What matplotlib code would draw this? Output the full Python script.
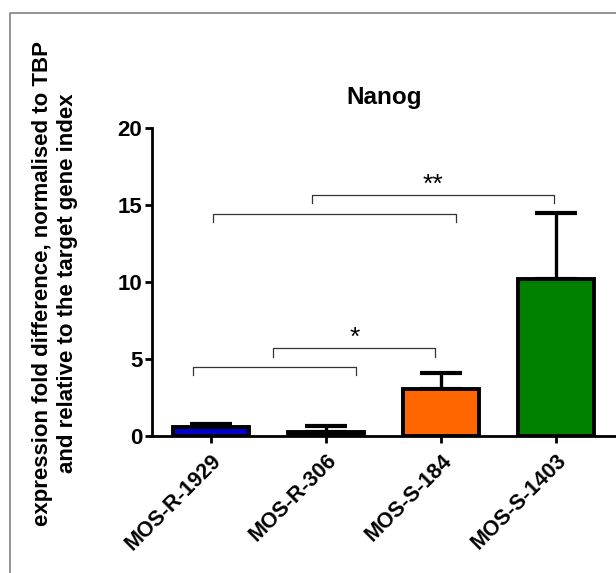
import matplotlib
matplotlib.use('Agg')
from matplotlib import pyplot as plt
from matplotlib.lines import Line2D

plt.rcParams['font.family'] = ['Liberation Sans', 'DejaVu Sans']

# Nanog expression per cell line (mean + upper SEM)
lines = ['MOS-R-1929', 'MOS-R-306', 'MOS-S-184', 'MOS-S-1403']
means = [0.6, 0.25, 3.05, 10.2]
sems = [0.2, 0.4, 1.05, 4.3]
colors = ['#0000CC', '#111111', '#FF6600', '#008000']

# significance brackets: left x, right x, height, label
brackets = [
    (-0.16, 1.26, 4.52, ''),
    (0.54, 1.95, 5.71, '*'),
    (0.02, 2.13, 14.43, ''),
    (0.88, 2.98, 15.67, '**'),
]

fig = plt.figure(figsize=(6.16, 5.73), dpi=100)
ax = fig.add_axes([152 / 616, 1 - 436.3 / 573, 1 - 152 / 616, (436.3 - 128) / 573])

x = list(range(len(lines)))
ax.errorbar(x, means, yerr=[[0] * len(sems), sems], fmt='none', ecolor='black',
            elinewidth=2.4, capsize=15, capthick=3, zorder=1)
ax.bar(x, means, width=0.66, color=colors, edgecolor='black', linewidth=2.8, zorder=2)

for x1, x2, h, label in brackets:
    ax.plot([x1, x1, x2, x2], [h - 0.55, h, h, h - 0.55], color='#333333', lw=0.9, zorder=3)
    if label:
        ax.text((x1 + x2) / 2, h + 0.2, label, ha='center', va='baseline', fontsize=19)

ax.set_xlim(-0.513, 3.52)
ax.set_ylim(0, 20)
ax.set_yticks([0, 5, 10, 15, 20])
ax.set_xticks(x)
ax.set_xticklabels(lines, rotation=45, ha='right', va='top', rotation_mode='anchor',
                   fontsize=15.5, fontweight='bold')
for lab in ax.get_yticklabels():
    lab.set_fontsize(16)
    lab.set_fontweight('bold')

for side in ['top', 'right']:
    ax.spines[side].set_visible(False)
for side in ['left', 'bottom']:
    ax.spines[side].set_linewidth(2)
ax.tick_params(axis='both', width=2, length=5)
ax.tick_params(axis='y', pad=2)
ax.tick_params(axis='x', pad=5)

ax.set_title('Nanog', fontsize=17.5, fontweight='bold', pad=17)
fig.text(55 / 616, 1 - 283 / 573,
         'expression fold difference, normalised to TBP\nand relative to the target gene index',
         rotation=90, ha='center', va='center', fontsize=16, fontweight='bold',
         multialignment='center', linespacing=1.25)

# grey frame around the panel
fx, fy = 10 / 616, 1 - 12.7 / 573
fig.add_artist(Line2D([fx, fx, 1.01], [-0.01, fy, fy], color='#808080', lw=1.2))

fig.savefig('out.png', dpi=100)
